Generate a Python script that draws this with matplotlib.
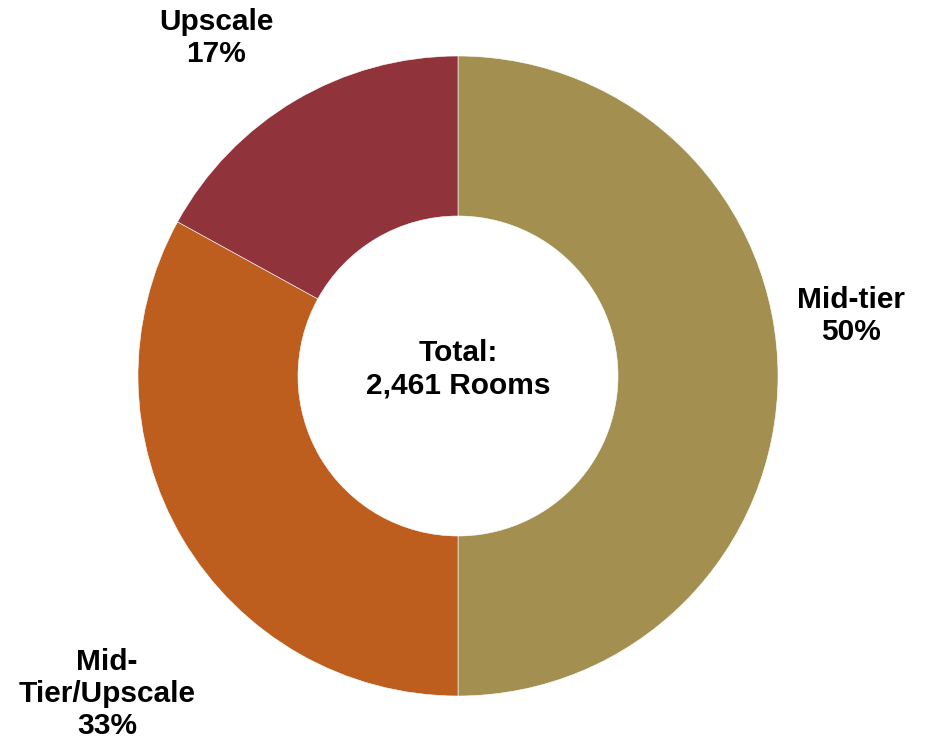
import matplotlib.pyplot as plt

# room mix by segment
segments = ["Mid-tier", "Mid-Tier/Upscale", "Upscale"]
shares = [50, 33, 17]
colors = ["#A39050", "#BD5E1F", "#90333B"]
label_text = ["Mid-tier", "Mid-\nTier/Upscale", "Upscale"]
total_rooms = "2,461"

W, H = 926, 743
fig = plt.figure(figsize=(W / 100, H / 100), dpi=100)
ax = fig.add_axes([0, 0, 1, 1])

cx, cy, r = 458, H - 376, 320
ax.pie(shares, colors=colors, startangle=90, counterclock=False,
       center=(cx, cy), radius=r,
       wedgeprops=dict(width=r * 0.5, edgecolor="white", linewidth=0.4))
ax.set_xlim(0, W)
ax.set_ylim(0, H)
ax.set_aspect("equal")
ax.axis("off")

font = dict(family="Liberation Sans", fontsize=21.5, fontweight="bold",
            ha="center", va="center", linespacing=1.2)

# label positions around the ring
pos = [(851, H - 316), (107, H - 694), (216, H - 38)]
for txt, share, (x, y) in zip(label_text, shares, pos):
    ax.text(x, y, f"{txt}\n{share}%", **font)

ax.text(cx, H - 369, f"Total:\n{total_rooms} Rooms", **font)

fig.savefig("out.png", dpi=100, facecolor="white")
